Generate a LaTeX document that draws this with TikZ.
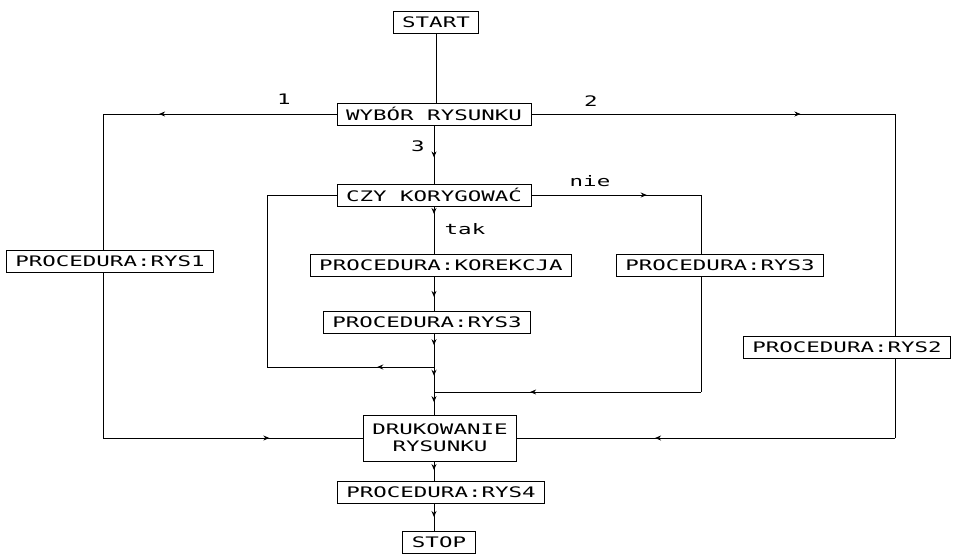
\documentclass[tikz,border=0pt]{standalone}
\usepackage{fontspec}
\newfontfamily\dotfont[FakeStretch=1.55]{DejaVu Sans Mono}
\usetikzlibrary{arrows.meta}
\usetikzlibrary{decorations.markings}

\begin{document}
\begin{tikzpicture}[x=1pt,y=-1pt,line width=0.9pt,
    box/.style={draw,font=\dotfont\fontsize{14.5}{17}\selectfont,inner xsep=9pt,inner ysep=0pt,minimum height=22pt},
    lbl/.style={font=\dotfont\fontsize{14.5}{17}\selectfont,inner sep=0pt},
    midtick/.style={postaction={decorate},decoration={markings,
        mark=at position #1 with {\arrow{Stealth[length=6pt,width=5pt]}}}}]

    \useasboundingbox (0,0) rectangle (958,555);

    % boxes
    \node[box] (start) at (436,22) {START};
    \node[box] (wybor) at (434,114) {WYBÓR RYSUNKU};
    \node[box] (czy) at (434,195) {CZY KORYGOWAĆ};
    \node[box] (korekcja) at (441,265) {PROCEDURA:KOREKCJA};
    \node[box] (rys3a) at (427,322) {PROCEDURA:RYS3};
    \node[box] (rys3b) at (720,265) {PROCEDURA:RYS3};
    \node[box] (rys1) at (110,261) {PROCEDURA:RYS1};
    \node[box] (rys2) at (847,347) {PROCEDURA:RYS2};
    \node[box,align=center,minimum height=46pt] (druk) at (440,438) {DRUKOWANIE\\RYSUNKU};
    \node[box] (rys4) at (441,492) {PROCEDURA:RYS4};
    \node[box] (stop) at (439,542) {STOP};

    % corners
    \coordinate (l1) at (103,114);
    \coordinate (r1) at (895,114);
    \coordinate (n1) at (701,195);
    \coordinate (k1) at (267,195);
    \coordinate (j1) at (434,367);
    \coordinate (j2) at (434,392);

    % outer branches
    \draw (start.south) -- (start.south |- wybor.north);
    \draw[midtick=0.76] (wybor.west) -- (l1);
    \node[lbl] (one) at (284,99) {1};
    \draw (l1) -- (rys1.north -| l1);
    \draw (rys1.south -| l1) -- (l1 |- druk.west);
    \draw[midtick=0.64] (l1 |- druk.west) -- (druk.west);
    \draw[midtick=0.74] (wybor.east) -- (r1);
    \node[lbl] (two) at (591,101) {2};
    \draw (r1) -- (rys2.north -| r1);
    \draw (rys2.south -| r1) -- (r1 |- druk.east);
    \draw[midtick=0.635] (r1 |- druk.east) -- (druk.east);

    % branch 3
    \draw[midtick=0.55] (wybor.south) -- (czy.north);
    \node[lbl] (three) at (418,146) {3};
    \draw[midtick=0.68] (czy.east) -- (n1);
    \node[lbl] (nie) at (590,181) {nie};
    \draw (n1) -- (rys3b.north -| n1);
    \draw (rys3b.south -| n1) -- (n1 |- j2);
    \draw[midtick=0.64] (n1 |- j2) -- (j2);
    \draw[midtick=0.16] (czy.south) -- (czy.south |- korekcja.north);
    \node[lbl] (tak) at (465,229) {tak};
    \draw[midtick=0.6] (korekcja.south -| czy.south) -- (rys3a.north -| czy.south);
    \draw[midtick=0.35] (rys3a.south -| czy.south) -- (j1);
    \draw[midtick=0.34] (j1) -- (k1 |- j1);
    \draw (k1 |- j1) -- (k1) -- (czy.west);
    \draw[midtick=0.35] (j1) -- (j2);
    \draw[midtick=0.45] (j2) -- (druk.north -| j2);

    % end
    \draw[midtick=0.45] (druk.south -| j2) -- (rys4.north -| j2);
    \draw[midtick=0.5] (rys4.south -| j2) -- (stop.north -| j2);
\end{tikzpicture}
\end{document}
